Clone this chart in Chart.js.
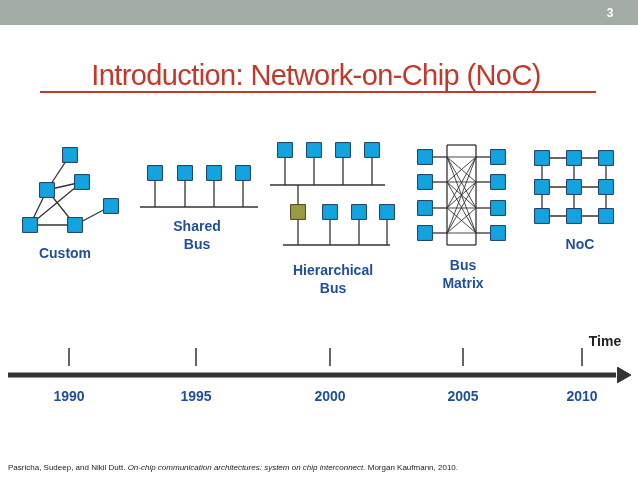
<!DOCTYPE html>
<html><head><meta charset="utf-8">
<script src="https://cdn.jsdelivr.net/npm/chart.js@4"></script>
<style>
body{margin:0;width:638px;height:479px;overflow:hidden;background:#fff;font-family:"Liberation Sans",Arial,sans-serif}
#wrap{position:relative;width:638px;height:479px}
canvas{position:absolute;left:0;top:0}
.t{position:absolute;white-space:nowrap;transform:translate(-50%,-50%)}
.lbl{color:#1f4e9a;font-weight:bold;font-size:14px;text-align:center;line-height:18px}
.yr{color:#1f4e9a;font-weight:bold;font-size:14px}
</style></head><body>
<div id="wrap">
<div style="position:absolute;left:0;top:0;width:638px;height:25px;background:#a3aca4"></div>
<canvas id="c" width="638" height="479"></canvas>
<div class="t" style="left:610px;top:13px;color:#fff;font-weight:bold;font-size:12px">3</div>
<div class="t" style="left:316px;top:75px;color:#c0392b;font-size:29px;letter-spacing:-0.6px">Introduction: Network-on-Chip (NoC)</div>
<div id="labels"></div>
<div class="t" style="left:605px;top:341px;font-weight:bold;font-size:14px;color:#222">Time</div>
<div style="position:absolute;left:8px;top:463px;font-size:8px;color:#222;white-space:nowrap">Pasricha, Sudeep, and Nikil Dutt. <i>On-chip communication architectures: system on chip interconnect.</i> Morgan Kaufmann, 2010.</div>
</div>
<script>
// timeline
const years = ['1990', '1995', '2000', '2005', '2010'];
const yearX = [69, 196, 330, 463, 582];
const timelineY = 375;

// architecture labels
const archNames = ['Custom', 'Shared<br>Bus', 'Hierarchical<br>Bus', 'Bus<br>Matrix', 'NoC'];
const archLabelX = [65, 197, 333, 463, 580];
const archLabelY = [253, 235, 279, 274, 244];

// nodes (blue squares)
const nodesX = [70,47,82,30,75,111, 155,185,214,243, 285,314,343,372, 330,359,387,
  425,425,425,425, 498,498,498,498, 542,574,606,542,574,606,542,574,606];
const nodesY = [155,190,182,225,225,206, 173,173,173,173, 150,150,150,150, 212,212,212,
  157,182,208,233, 157,182,208,233, 158,158,158,187,187,187,216,216,216];
const bridgeNode = [298, 212];

// wires [x1,y1,x2,y2]
const wires = [
  [70,155,47,190],[47,190,30,225],[47,190,75,225],[47,190,82,182],[82,182,30,225],[30,225,75,225],[75,225,111,206],
  [140,207,258,207],[155,173,155,207],[185,173,185,207],[214,173,214,207],[243,173,243,207],
  [270,185,385,185],[285,150,285,185],[314,150,314,185],[343,150,343,185],[372,150,372,185],
  [298,185,298,245],[283,245,390,245],[330,212,330,245],[359,212,359,245],[387,212,387,245],
  [447,145,476,145],[476,145,476,245],[476,245,447,245],[447,245,447,145],
  [425,157,447,157],[425,182,447,182],[425,208,447,208],[425,233,447,233],
  [476,157,498,157],[476,182,498,182],[476,208,498,208],[476,233,498,233],
  [542,158,606,158],[542,187,606,187],[542,216,606,216],[542,158,542,216],[574,158,574,216],[606,158,606,216]
];
const matrixRows = [157,182,208,233];

document.getElementById('labels').innerHTML =
  archNames.map((n,i)=>`<div class="t lbl" style="left:${archLabelX[i]}px;top:${archLabelY[i]}px">${n}</div>`).join('') +
  years.map((y,i)=>`<div class="t yr" style="left:${yearX[i]}px;top:396px">${y}</div>`).join('');

const ds = [];
const seg = (a,b,c,d,col,w) => ds.push({type:'line',data:[{x:a,y:b},{x:c,y:d}],borderColor:col,borderWidth:w,pointRadius:0,order:2,clip:false});
wires.forEach(s => seg(s[0],s[1],s[2],s[3],'#333',1.3));
matrixRows.forEach(a => matrixRows.forEach(b => seg(447,a,476,b,'#333',0.9)));
// timeline
seg(8,timelineY,616,timelineY,'#333',5);
yearX.forEach(x => seg(x,348,x,366,'#333',1.5));
ds.push({type:'scatter',data:[{x:622,y:timelineY}],pointStyle:'triangle',rotation:90,pointRadius:9,backgroundColor:'#333',borderColor:'#333',order:1,clip:false});
ds.push({type:'scatter',data:nodesX.map((x,i)=>({x,y:nodesY[i]})),pointStyle:'rect',pointRadius:10.5,backgroundColor:'#13a4e0',borderColor:'#1c3d66',borderWidth:1,order:0,clip:false});
ds.push({type:'scatter',data:[{x:bridgeNode[0],y:bridgeNode[1]}],pointStyle:'rect',pointRadius:10.5,backgroundColor:'#9a9a40',borderColor:'#4a4a20',borderWidth:1,order:0,clip:false});
// title underline
seg(40,92,596,92,'#c0392b',2);

new Chart(document.getElementById('c'), {
  type: 'scatter',
  data: { datasets: ds },
  options: {
    responsive:false, animation:false,
    layout:{padding:0, autoPadding:false},
    plugins:{legend:{display:false},tooltip:{enabled:false}},
    scales:{
      x:{type:'linear',min:0,max:638,display:false},
      y:{type:'linear',min:0,max:479,reverse:true,display:false}
    }
  }
});
</script>
</body></html>
